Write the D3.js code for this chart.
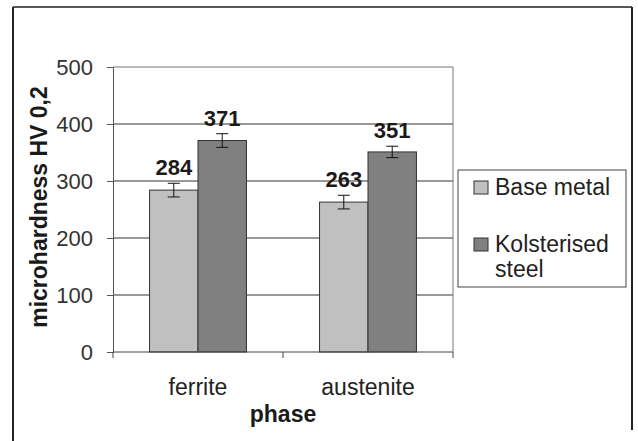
<html>
<head>
<script src="https://d3js.org/d3.v7.min.js"></script>
<style>
body { margin: 0; background: #fff; font-family: 'Liberation Sans', Arial, sans-serif; }
svg { display: block; }
</style>
</head>
<body>
<svg width="638" height="441"></svg>
<script>

// chart data
var phases = ["ferrite", "austenite"];
var seriesNames = ["Base metal", "Kolsterised steel"];
var baseMetal = [284, 263];
var kolsterised = [371, 351];
var baseErr = [12, 12];
var kolsErr = [12, 10];
var yTicks = [0, 100, 200, 300, 400, 500];
var colors = ["#c0c0c0", "#808080"];

var svg = d3.select("svg");

// outer frame
svg.append("line").attr("x1", 13).attr("x2", 632).attr("y1", 7).attr("y2", 7)
  .attr("stroke", "#222").attr("stroke-width", 1.5);
svg.append("line").attr("x1", 13).attr("x2", 13).attr("y1", 7).attr("y2", 441)
  .attr("stroke", "#222").attr("stroke-width", 2);
svg.append("line").attr("x1", 632).attr("x2", 632).attr("y1", 7).attr("y2", 430)
  .attr("stroke", "#222").attr("stroke-width", 2);

var pLeft = 113, pRight = 453, pTop = 67, pBottom = 352;

var y = d3.scaleLinear().domain([0, 500]).range([pBottom, pTop]);
var x = d3.scaleBand().domain(phases).range([pLeft, pRight])
  .paddingInner(0.43).paddingOuter(0.215);
var xs = d3.scaleBand().domain(seriesNames).range([0, x.bandwidth()]);

// gridlines
svg.selectAll("line.grid").data(yTicks.filter(function(d) { return d > 0; }))
  .enter().append("line").attr("class", "grid")
  .attr("x1", pLeft).attr("x2", pRight)
  .attr("y1", function(d) { return y(d); }).attr("y2", function(d) { return y(d); })
  .attr("stroke", function(d) { return d == 500 ? "#777" : "#333"; })
  .attr("stroke-width", 1);

// right border of plot
svg.append("line").attr("x1", pRight).attr("x2", pRight).attr("y1", pTop).attr("y2", pBottom)
  .attr("stroke", "#777");

// y axis
var yAxis = svg.append("g").attr("transform", "translate(" + pLeft + ",0)")
  .call(d3.axisLeft(y).tickValues(yTicks).tickSize(6).tickPadding(14));
yAxis.select(".domain").attr("stroke", "#555");
yAxis.selectAll(".tick line").attr("stroke", "#555");
yAxis.selectAll(".tick text").attr("font-size", 22).attr("fill", "#333")
  .attr("font-family", "'Liberation Sans', Arial, sans-serif");

// bars
var rows = phases.map(function(p, i) {
  return [
    { phase: p, name: seriesNames[0], v: baseMetal[i], e: baseErr[i], c: colors[0] },
    { phase: p, name: seriesNames[1], v: kolsterised[i], e: kolsErr[i], c: colors[1] }
  ];
});
var flat = [].concat.apply([], rows);

svg.selectAll("rect.bar").data(flat).enter().append("rect")
  .attr("class", "bar")
  .attr("x", function(d) { return x(d.phase) + xs(d.name); })
  .attr("width", xs.bandwidth())
  .attr("y", function(d) { return y(d.v); })
  .attr("height", function(d) { return y(0) - y(d.v); })
  .attr("fill", function(d) { return d.c; })
  .attr("stroke", "#333").attr("stroke-width", 1);

// error bars
var eb = svg.selectAll("g.err").data(flat).enter().append("g").attr("class", "err")
  .attr("transform", function(d) { return "translate(" + (x(d.phase) + xs(d.name) + xs.bandwidth() / 2) + ",0)"; });
eb.append("line").attr("x1", 0).attr("x2", 0)
  .attr("y1", function(d) { return y(d.v + d.e); }).attr("y2", function(d) { return y(d.v - d.e); })
  .attr("stroke", "#111");
eb.append("line").attr("x1", -6).attr("x2", 6)
  .attr("y1", function(d) { return y(d.v + d.e); }).attr("y2", function(d) { return y(d.v + d.e); })
  .attr("stroke", "#111");
eb.append("line").attr("x1", -6).attr("x2", 6)
  .attr("y1", function(d) { return y(d.v - d.e); }).attr("y2", function(d) { return y(d.v - d.e); })
  .attr("stroke", "#111");

// value labels
svg.selectAll("text.val").data(flat).enter().append("text").attr("class", "val")
  .attr("x", function(d) { return x(d.phase) + xs(d.name) + xs.bandwidth() / 2; })
  .attr("y", function(d) { return y(d.v + d.e) - 8; })
  .attr("text-anchor", "middle").attr("font-size", 22).attr("font-weight", "bold")
  .attr("fill", "#1a1a1a")
  .text(function(d) { return d.v; });

// x axis
var xAxis = svg.append("g").attr("transform", "translate(0," + pBottom + ")")
  .call(d3.axisBottom(x).tickSize(0).tickPadding(0));
xAxis.select(".domain").remove();
xAxis.selectAll(".tick text").attr("font-size", 23).attr("fill", "#222")
  .attr("font-family", "'Liberation Sans', Arial, sans-serif").attr("dy", 0).attr("y", 43);
svg.append("line").attr("x1", pLeft).attr("x2", pRight).attr("y1", pBottom).attr("y2", pBottom)
  .attr("stroke", "#444");
// category boundary ticks
var bounds = [pLeft, x("austenite") - x.step() * x.paddingInner() / 2, pRight];
svg.selectAll("line.xt").data(bounds).enter().append("line").attr("class", "xt")
  .attr("x1", function(d) { return d; }).attr("x2", function(d) { return d; })
  .attr("y1", pBottom).attr("y2", pBottom + 6).attr("stroke", "#444");

// axis titles
svg.append("text").attr("x", (pLeft + pRight) / 2).attr("y", 422)
  .attr("text-anchor", "middle").attr("font-size", 23).attr("font-weight", "bold")
  .attr("fill", "#1a1a1a").text("phase");
svg.append("text").attr("transform", "translate(47,207) rotate(-90)")
  .attr("text-anchor", "middle").attr("font-size", 23).attr("font-weight", "bold")
  .attr("fill", "#1a1a1a").text("microhardness HV 0,2");

// legend
var lg = svg.append("g");
lg.append("rect").attr("x", 458).attr("y", 170).attr("width", 168).attr("height", 117)
  .attr("fill", "#fff").attr("stroke", "#444");
var legendLines = [["Base metal"], ["Kolsterised", "steel"]];
legendLines.forEach(function(lines, i) {
  var y0 = 195 + i * 57;
  lg.append("rect").attr("x", 474).attr("y", y0 - 14).attr("width", 14).attr("height", 13)
    .attr("fill", colors[i]).attr("stroke", "#333");
  lines.forEach(function(t, j) {
    lg.append("text").attr("x", 495).attr("y", y0 + j * 25)
      .attr("font-size", 23).attr("fill", "#222").text(t);
  });
});

</script>
</body>
</html>
